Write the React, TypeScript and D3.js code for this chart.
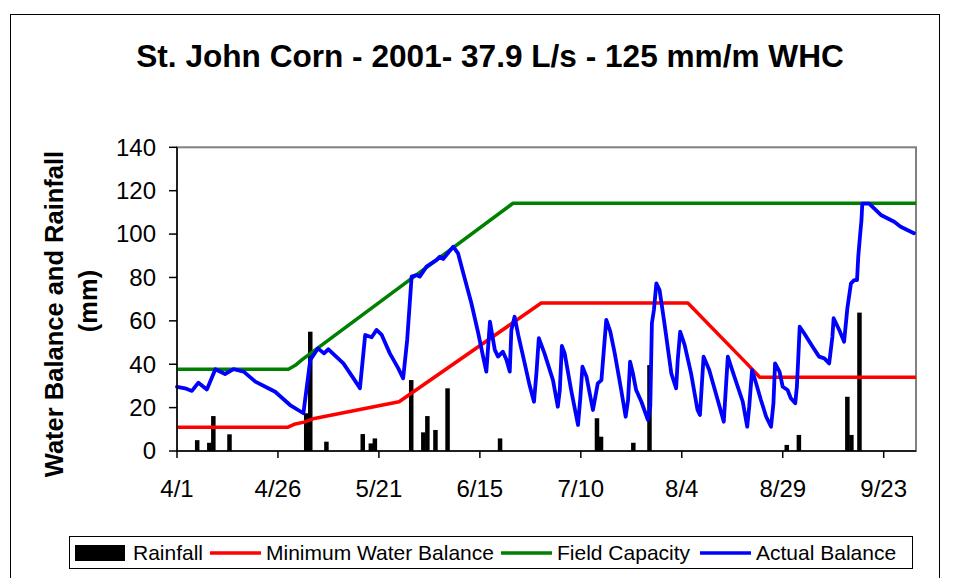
import React from "react";
import * as d3 from "d3";

// ---------- data ----------
const seasonStart = new Date(2001, 3, 1);
const seasonEnd = new Date(2001, 9, 1);
const tickDays = [0, 25, 50, 75, 100, 125, 150, 175];
const yTicks = [0, 20, 40, 60, 80, 100, 120, 140];

// rainfall (day of season, mm)
const rainDays = [5, 8, 9, 13, 32, 33, 37, 46, 48, 49, 58, 61, 62, 64, 67, 80, 104, 105, 113, 117, 151, 154, 166, 167, 169];
const rainMm = [5, 3.8, 16.1, 7.7, 17.4, 55, 4.3, 7.8, 3.5, 5.8, 32.7, 8.6, 16.1, 9.7, 28.9, 5.8, 15.1, 6.6, 3.8, 39.6, 2.8, 7.4, 25, 7.4, 63.8];

// minimum water balance
const minDays = [0, 27.5, 29, 31.5, 34, 55, 90.2, 126.5, 141, 144.3, 183];
const minVals = [11, 11, 12.3, 13.3, 15, 22.7, 68.2, 68.2, 40.5, 34, 34];

// field capacity
const fcDays = [0, 27.6, 29.3, 30.9, 83.2, 183];
const fcVals = [37.7, 37.7, 39.5, 42, 114.2, 114.2];

// actual balance
const actDays = [0, 2, 3.7, 5.3, 7.4, 9.5, 11.9, 14, 16.5, 19.4, 22.6, 24.3, 28, 31.3, 33, 34.9, 36.4, 37.5, 41.2, 43.7, 45.3, 46.6, 48.2, 49.4, 50.7, 52.7, 54.8, 56, 57, 58.1, 59.3, 60.1, 61.8, 64.3, 65.1, 65.9, 68.4, 69.6, 70.9, 72.9, 74.6, 75.8, 76.6, 77.5, 78.7, 79.5, 80.7, 81.6, 82.4, 82.8, 83.6, 84.5, 86.1, 87.3, 88.4, 89, 89.6, 91, 93.1, 94.3, 94.8, 95.3, 96, 97.6, 99.3, 99.9, 100.4, 101.4, 103, 104.2, 105.1, 106.3, 107.3, 108.4, 110, 111.1, 111.7, 112.2, 112.9, 113.7, 115, 116.6, 117.2, 117.6, 118.1, 118.7, 119.5, 120.7, 122.4, 123.6, 124, 124.6, 125.7, 127.3, 128.9, 129.5, 130.4, 131.8, 133.9, 135.4, 136.4, 137.2, 140.1, 141.2, 141.7, 142.4, 143.4, 144.6, 145.9, 147.1, 147.7, 148.1, 149.2, 150, 151.2, 152, 153.1, 153.5, 153.9, 154.2, 155.3, 157.4, 159, 160.3, 161.5, 162.3, 162.6, 164, 165.2, 166, 166.9, 167.7, 168.4, 168.7, 169.2, 169.5, 169.7, 171.4, 174.3, 177.6, 179.2, 182.5];
const actVals = [29.6, 28.9, 27.7, 31.5, 28.4, 37.7, 35.5, 37.7, 36.6, 32, 28.9, 27.3, 21.2, 17.4, 42, 47.3, 45, 46.9, 40.4, 33.5, 28.9, 53.5, 52.4, 55.8, 53.5, 45, 38.1, 33.5, 51.2, 80.4, 81.1, 80.4, 85, 88.1, 89.6, 88.5, 94.2, 91.1, 81.9, 68.1, 54.3, 43.5, 36.6, 59.6, 46.6, 43.5, 45.8, 42, 36.6, 55.8, 61.9, 53.5, 40.4, 30.4, 22.7, 35.8, 52, 45, 32.7, 20.4, 28.1, 48.4, 45, 28.1, 12, 25, 38.9, 34.3, 18.9, 31.2, 32.7, 60.4, 55, 45, 28.1, 15.8, 23.5, 41.2, 35.8, 28.1, 22.7, 14.3, 20.4, 58.9, 65, 77.3, 74.2, 58.9, 35.8, 28.9, 42, 55, 48.9, 35.8, 18.9, 16.6, 43.5, 37.3, 23.5, 13.5, 43.5, 38.9, 22.7, 11.2, 20.4, 37.3, 31.2, 23.5, 15.8, 11.2, 22, 40.4, 36.6, 29.6, 28.1, 24.3, 22, 29.6, 45, 57.3, 54.3, 48.1, 43.5, 42.7, 40.4, 52.7, 61.2, 55.8, 50.4, 65.8, 77.3, 78.8, 78.8, 89.6, 100.4, 106.5, 114, 114, 108.8, 105.7, 103.4, 100.4];

const legendLabels = ["Rainfall", "Minimum Water Balance", "Field Capacity", "Actual Balance"];
const seriesColors = ["#000000", "#FF0000", "#008000", "#0000FF"];

// ---------- layout ----------
const W = 955, H = 578;
const PL = 177, PR = 916, PT = 147.3, PB = 451;
const FONT = "'Liberation Sans', Arial, sans-serif";

const dayToDate = (d: number) => new Date(seasonStart.getTime() + d * 86400000);

export default function App() {
  const x = d3.scaleTime().domain([seasonStart, seasonEnd]).range([PL, PR]);
  const y = d3.scaleLinear().domain([0, 140]).range([PB, PT]);
  const fmt = d3.timeFormat("%-m/%-d");

  const line = d3
    .line<[number, number]>()
    .x((p) => x(dayToDate(p[0])))
    .y((p) => y(p[1]));

  const minPath = line(minDays.map((d, i) => [d, minVals[i]]));
  const fcPath = line(fcDays.map((d, i) => [d, fcVals[i]]));
  const actPath = line(actDays.map((d, i) => [d, actVals[i]]));
  const barW = 4.5;

  const legendItems = [
    { label: legendLabels[0], color: seriesColors[0], sx: 75, tx: 133, bar: true },
    { label: legendLabels[1], color: seriesColors[1], sx: 210, tx: 266, bar: false },
    { label: legendLabels[2], color: seriesColors[2], sx: 501, tx: 557, bar: false },
    { label: legendLabels[3], color: seriesColors[3], sx: 700, tx: 756, bar: false },
  ];

  return (
    <svg width={W} height={H} style={{ position: "absolute", left: 0, top: 0, background: "#fff" }} fontFamily={FONT}>
      <rect x={0} y={0} width={W} height={H} fill="#fff" />
      {/* chart frame */}
      <rect x={10.5} y={14.5} width={929} height={620} fill="none" stroke="#000" strokeWidth={1} />
      {/* title */}
      <text x={490} y={67} textAnchor="middle" fontSize={31.6} fontWeight="bold" fill="#000">
        St. John Corn - 2001- 37.9 L/s - 125 mm/m WHC
      </text>
      {/* plot border */}
      <rect x={PL} y={PT} width={PR - PL} height={PB - PT} fill="#fff" stroke="#808080" strokeWidth={2} />
      {/* bars */}
      {rainDays.map((d, i) => (
        <rect key={i} x={x(dayToDate(d)) - barW / 2} y={y(rainMm[i])} width={barW} height={PB - y(rainMm[i])} fill="#000" />
      ))}
      {/* lines */}
      <path d={minPath || ""} fill="none" stroke={seriesColors[1]} strokeWidth={3.5} strokeLinejoin="round" />
      <path d={fcPath || ""} fill="none" stroke={seriesColors[2]} strokeWidth={3.5} strokeLinejoin="round" />
      <path d={actPath || ""} fill="none" stroke={seriesColors[3]} strokeWidth={3.8} strokeLinejoin="round" strokeLinecap="round" />
      {/* axes */}
      <line x1={PL} x2={PL} y1={PT} y2={PB} stroke="#000" strokeWidth={1.5} />
      <line x1={PL} x2={PR} y1={PB} y2={PB} stroke="#000" strokeWidth={1.5} />
      {yTicks.map((t) => (
        <g key={t}>
          <line x1={PL - 8} x2={PL} y1={y(t)} y2={y(t)} stroke="#000" strokeWidth={1.5} />
          <text x={156} y={y(t)} dy="0.35em" textAnchor="end" fontSize={24} fill="#000">
            {t}
          </text>
        </g>
      ))}
      {tickDays.map((d) => {
        const xx = x(dayToDate(d));
        return (
          <g key={d}>
            <line x1={xx} x2={xx} y1={PB} y2={PB + 7} stroke="#000" strokeWidth={1.5} />
            <text x={xx} y={497} textAnchor="middle" fontSize={24} fill="#000">
              {fmt(dayToDate(d))}
            </text>
          </g>
        );
      })}
      {/* y axis title */}
      <text transform="translate(63,314) rotate(-90)" textAnchor="middle" fontSize={25.5} fontWeight="bold" fill="#000">
        Water Balance and Rainfall
      </text>
      <text transform="translate(97,301) rotate(-90)" textAnchor="middle" fontSize={25.5} fontWeight="bold" fill="#000">
        (mm)
      </text>
      {/* legend */}
      <rect x={69.5} y={536.5} width={843} height={32} fill="#fff" stroke="#000" strokeWidth={1} />
      {legendItems.map((it, i) => (
        <g key={i}>
          {it.bar ? (
            <rect x={it.sx} y={545} width={50} height={16} fill={it.color} />
          ) : (
            <line x1={it.sx} x2={it.sx + 51} y1={553} y2={553} stroke={it.color} strokeWidth={3.5} />
          )}
          <text x={it.tx} y={560} fontSize={21} fill="#000">
            {it.label}
          </text>
        </g>
      ))}
    </svg>
  );
}
